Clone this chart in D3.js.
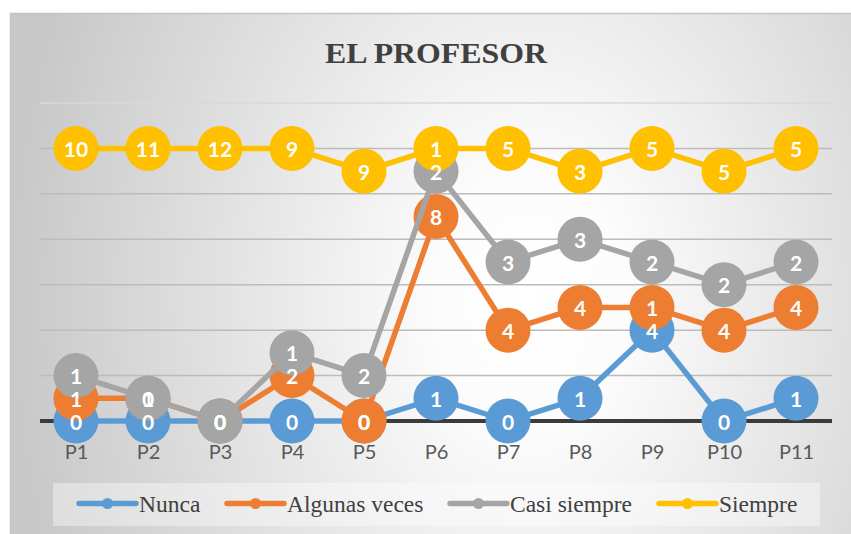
<!DOCTYPE html>
<html>
<head>
<meta charset="utf-8">
<script src="https://cdn.jsdelivr.net/npm/d3@7"></script>
<style>
  html, body { margin: 0; padding: 0; background: #ffffff; }
  svg { display: block; }
</style>
</head>
<body>
<svg id="chart" width="851" height="534"></svg>
<script>
// Survey answers per question (P1..P11), one array per answer option
const categories = ["P1", "P2", "P3", "P4", "P5", "P6", "P7", "P8", "P9", "P10", "P11"];
const nunca    = [0, 0, 0, 0, 0, 1, 0, 1, 4, 0, 1];
const algunas  = [1, 1, 0, 2, 0, 8, 4, 4, 1, 4, 4];
const casi     = [1, 0, 0, 1, 2, 2, 3, 3, 2, 2, 2];
const siempre  = [10, 11, 12, 9, 9, 1, 5, 3, 5, 5, 5];
const seriesNames = ["Nunca", "Algunas veces", "Casi siempre", "Siempre"];
const seriesColors = ["#5B9BD5", "#ED7D31", "#A5A5A5", "#FFC000"];
const yTicks = [0, 2, 4, 6, 8, 10, 12, 14];
const title = "EL PROFESOR";

const W = 851, H = 534;
const frame = { x: 10, y: 13, w: 841, h: 521 };
const plot = { left: 40, right: 832, top: 103, bottom: 421 };

const svg = d3.select("#chart");
const defs = svg.append("defs");

// Soft radial background of the chart area
const grad = defs.append("radialGradient")
  .attr("id", "bg")
  .attr("gradientUnits", "userSpaceOnUse")
  .attr("cx", 530).attr("cy", 300).attr("r", 520)
  .attr("gradientTransform", "translate(530,300) scale(1,1.35) translate(-530,-300)");
grad.append("stop").attr("offset", 0).attr("stop-color", "#ffffff");
grad.append("stop").attr("offset", 0.18).attr("stop-color", "#fcfcfc");
grad.append("stop").attr("offset", 1).attr("stop-color", "#c8c8c8");

svg.append("rect")
  .attr("x", frame.x).attr("y", frame.y)
  .attr("width", frame.w).attr("height", frame.h)
  .attr("fill", "url(#bg)");
// frame edges
svg.append("path")
  .attr("d", `M${frame.x + 0.5},${H} V${frame.y + 0.5} H${W}`)
  .attr("fill", "none").attr("stroke", "#c4c4c4").attr("stroke-width", 1.5);

// Title
svg.append("text")
  .attr("x", 436).attr("y", 63)
  .attr("text-anchor", "middle")
  .attr("font-family", "'Liberation Serif', 'Times New Roman', serif")
  .attr("font-weight", "bold")
  .attr("font-size", 29)
  .attr("textLength", 222)
  .attr("lengthAdjust", "spacingAndGlyphs")
  .attr("fill", "#404040")
  .text(title);

// Stacked values
const rows = categories.map((c, i) => ({
  cat: c,
  "Nunca": nunca[i],
  "Algunas veces": algunas[i],
  "Casi siempre": casi[i],
  "Siempre": siempre[i]
}));
const stacked = d3.stack().keys(seriesNames)(rows);

const x = d3.scalePoint().domain(categories).range([plot.left, plot.right]).padding(0.5);
const y = d3.scaleLinear().domain([0, 14]).range([plot.bottom, plot.top]);

// Gridlines
svg.append("g").selectAll("line")
  .data(yTicks.filter(t => t > 0))
  .join("line")
  .attr("x1", plot.left).attr("x2", plot.right)
  .attr("y1", d => y(d)).attr("y2", d => y(d))
  .attr("stroke", d => d === 14 ? "#d9d9d9" : "#bcbcbc")
  .attr("stroke-width", 1.5);

// Category axis
const xAxis = svg.append("g")
  .attr("transform", `translate(0,${y(0)})`)
  .call(d3.axisBottom(x).tickSize(0).tickPadding(0));
xAxis.select(".domain")
  .attr("d", `M${plot.left},0H${plot.right}`)
  .attr("stroke", "#3b3b3b").attr("stroke-width", 4);
xAxis.selectAll(".tick text")
  .attr("y", 37.5).attr("dy", 0)
  .attr("font-family", "Lato, 'Open Sans', sans-serif")
  .attr("font-size", 20)
  .attr("fill", "#595959");

// Lines and markers, series by series
const line = d3.line().x(d => x(d.data.cat)).y(d => y(d[1]));
const R = 22.5;
stacked.forEach((s, i) => {
  const g = svg.append("g");
  g.append("path")
    .datum(s)
    .attr("d", line)
    .attr("fill", "none")
    .attr("stroke", seriesColors[i])
    .attr("stroke-width", 5.5)
    .attr("stroke-linejoin", "round");
  g.selectAll("circle")
    .data(s)
    .join("circle")
    .attr("cx", d => x(d.data.cat))
    .attr("cy", d => y(d[1]))
    .attr("r", R)
    .attr("fill", seriesColors[i]);
});

// Data labels on top of all markers
stacked.forEach((s, i) => {
  svg.append("g").selectAll("text")
    .data(s)
    .join("text")
    .attr("x", d => x(d.data.cat))
    .attr("y", d => y(d[1]) + 8.5)
    .attr("text-anchor", "middle")
    .attr("font-family", "Lato, 'Open Sans', sans-serif")
    .attr("font-weight", "bold")
    .attr("font-size", 21)
    .attr("fill", "#ffffff")
    .text(d => d.data[s.key]);
});

// Legend
const legend = svg.append("g");
legend.append("rect")
  .attr("x", 53).attr("y", 483).attr("width", 767).attr("height", 43)
  .attr("fill", "#ffffff").attr("fill-opacity", 0.38);
const legendItems = [
  { x0: 79, x1: 136, tx: 139 },
  { x0: 227, x1: 284, tx: 287 },
  { x0: 450, x1: 507, tx: 510 },
  { x0: 659, x1: 716, tx: 719 }
];
seriesNames.forEach((name, i) => {
  const it = legendItems[i];
  legend.append("line")
    .attr("x1", it.x0).attr("x2", it.x1)
    .attr("y1", 503.5).attr("y2", 503.5)
    .attr("stroke", seriesColors[i]).attr("stroke-width", 5.5)
    .attr("stroke-linecap", "round");
  legend.append("circle")
    .attr("cx", (it.x0 + it.x1) / 2).attr("cy", 503.5).attr("r", 5.5)
    .attr("fill", seriesColors[i]);
  legend.append("text")
    .attr("x", it.tx).attr("y", 512)
    .attr("font-family", "'Liberation Serif', 'Times New Roman', serif")
    .attr("font-size", 23.5)
    .attr("fill", "#404040")
    .text(name);
});
</script>
</body>
</html>
